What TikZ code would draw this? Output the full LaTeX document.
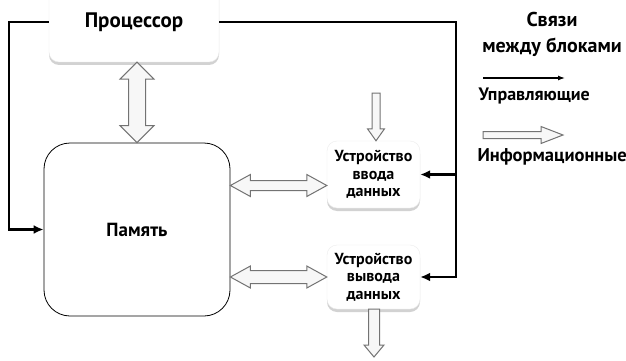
\documentclass[tikz,border=0pt]{standalone}
\usepackage{fontspec}
\setmainfont{PT Sans}
\usetikzlibrary{calc,shadows,arrows.meta}
\def\ahl{15pt}\def\ahw{15pt}\def\asw{8pt}
\newcommand{\fsz}[2]{\bfseries\fontsize{#1}{#2}\selectfont}
\tikzset{
  adims/.code args={#1/#2/#3}{\def\ahl{#1}\def\ahw{#2}\def\asw{#3}},
  hollow/.style={draw=black!55, fill=gray!6, line width=1pt, line join=miter},
  dblarrow/.style={hollow, to path={let \p1=(\tikztostart), \p2=(\tikztotarget), \n1={atan2(\y2-\y1,\x2-\x1)} in
    -- ($(\p1)+(\n1:\ahl)+(\n1+90:\ahw)$) -- ($(\p1)+(\n1:\ahl)+(\n1+90:\asw)$)
    -- ($(\p2)+(\n1+180:\ahl)+(\n1+90:\asw)$) -- ($(\p2)+(\n1+180:\ahl)+(\n1+90:\ahw)$)
    -- (\p2) -- ($(\p2)+(\n1+180:\ahl)+(\n1-90:\ahw)$) -- ($(\p2)+(\n1+180:\ahl)+(\n1-90:\asw)$)
    -- ($(\p1)+(\n1:\ahl)+(\n1-90:\asw)$) -- ($(\p1)+(\n1:\ahl)+(\n1-90:\ahw)$) -- cycle}},
  sglarrow/.style={hollow, to path={let \p1=(\tikztostart), \p2=(\tikztotarget), \n1={atan2(\y2-\y1,\x2-\x1)} in
    ($(\p1)+(\n1+90:\asw)$)
    -- ($(\p2)+(\n1+180:\ahl)+(\n1+90:\asw)$) -- ($(\p2)+(\n1+180:\ahl)+(\n1+90:\ahw)$)
    -- (\p2) -- ($(\p2)+(\n1+180:\ahl)+(\n1-90:\ahw)$) -- ($(\p2)+(\n1+180:\ahl)+(\n1-90:\asw)$)
    -- ($(\p1)+(\n1-90:\asw)$) -- cycle}},
  ctrl/.style={line width=2.6pt, -{Latex[length=10pt,width=9pt]}},
  shadowbox/.style={rectangle, rounded corners=10pt, fill=white, draw=gray!15,
    drop shadow={shadow xshift=0pt, shadow yshift=-3pt, opacity=0.35}},
  membox/.style={rectangle, rounded corners=26pt, draw=black, line width=0.8pt, fill=white},
  devtext/.style={align=center, font=\fsz{16}{17.5}},
}
\begin{document}
\begin{tikzpicture}[x=1pt, y=-1pt, font=\fsz{18.5}{20}]
\clip (0,0) rectangle (626,361);
\fill[white] (0,0) rectangle (626,361);

% blocks
\node[shadowbox, minimum width=170pt, minimum height=80pt, font=\fsz{21}{24}] (proc) at (134,22) {Процессор};
\node[membox, minimum width=186pt, minimum height=173pt, font=\fsz{19}{22}] (mem) at (137,229.5) {Память};
\node[shadowbox, devtext, minimum width=93pt, minimum height=67pt] (ind) at (373.5,174.5) {Устройство\\ввода\\данных};
\node[shadowbox, devtext, minimum width=93pt, minimum height=64pt] (outd) at (373.5,277) {Устройство\\вывода\\данных};

% control connectors
\coordinate (lc) at (9,22);
\coordinate (rc) at (456,22);
\draw[ctrl] (proc.west) -- (lc) |- (mem.west);
\draw[ctrl] (proc.east) -- (rc) |- (outd.east);
\draw[ctrl] (rc |- ind.east) -- (ind.east);

% information connectors
\path[dblarrow, adims=17pt/17pt/8.5pt] (mem.north |- proc.south) to (mem.north);
\coordinate (a1) at ([yshift=-11pt]ind.west);
\path[dblarrow, adims=20pt/11pt/5pt] (mem.east |- a1) to (a1);
\path[dblarrow, adims=20pt/11pt/6.5pt] (mem.east |- outd.west) to (outd.west);
\coordinate (insrc) at (376,93);
\path[sglarrow, adims=12pt/8.5pt/4pt] (insrc) to (insrc |- ind.north);
\coordinate (outdst) at (374,357);
\path[sglarrow, adims=12pt/10pt/5.5pt] (outdst |- outd.south) to (outdst);

% legend
\node[align=center, font=\fsz{20}{26}] (ttl) at (552,34) {Связи\\между блоками};
\coordinate (l1a) at (483,78);
\coordinate (l1b) at (565,78);
\draw[line width=1.3pt, -{Latex[length=7pt,width=5pt]}] (l1a) -- (l1b);
\node[anchor=west, font=\fsz{18}{20}] (lctrl) at (475,96) {Управляющие};
\coordinate (l2a) at (483,135);
\coordinate (l2b) at (563,135);
\path[sglarrow, adims=22pt/8.5pt/3.5pt] (l2a) to (l2b);
\node[anchor=west] (linfo) at (474,157) {Информационные};
\end{tikzpicture}
\end{document}
